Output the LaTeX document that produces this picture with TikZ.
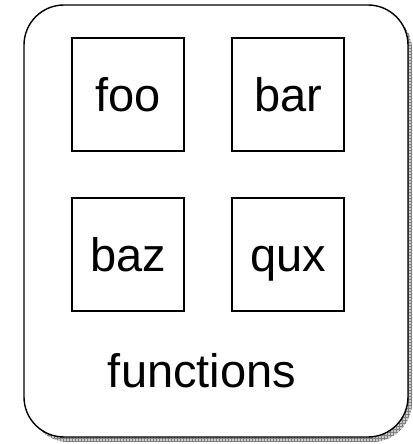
\documentclass[tikz,border=0pt]{standalone}
\usepackage{fontspec}
\setmainfont{Liberation Sans}
\usetikzlibrary{patterns}

\begin{document}
\begin{tikzpicture}[x=1pt, y=1pt, line width=1.4pt,
    fnbox/.style={draw, rectangle, inner sep=0pt, minimum width=112pt, minimum height=113pt,
        text height=35pt, text depth=0pt, font=\fontsize{47}{56}\selectfont}]

		\useasboundingbox (0,0) rectangle (412,444);

		% shadow of the outer frame
		\fill[gray!40, rounded corners=40pt] (29,2) rectangle (412,434);
		\path[pattern=grid, pattern color=gray, rounded corners=40pt] (29,2) rectangle (412,434);

		% outer frame
		\draw[fill=white, rounded corners=40pt] (24,7) rectangle (408,439);

		\newcommand{\mkfn}[4]{
			%une boite par fonction
			\node[fnbox] (#1) at (#2,#3) {#4};
		}

		\mkfn{foo}{128}{349.5}{foo}
		\mkfn{bar}{288}{349.5}{bar}
		\mkfn{baz}{128}{189.5}{baz}
		\mkfn{qux}{288}{189.5}{qux}

		\node[anchor=base, inner sep=0pt, font=\fontsize{47}{56}\selectfont] (functions) at (202,56) {functions};

\end{tikzpicture}
\end{document}
